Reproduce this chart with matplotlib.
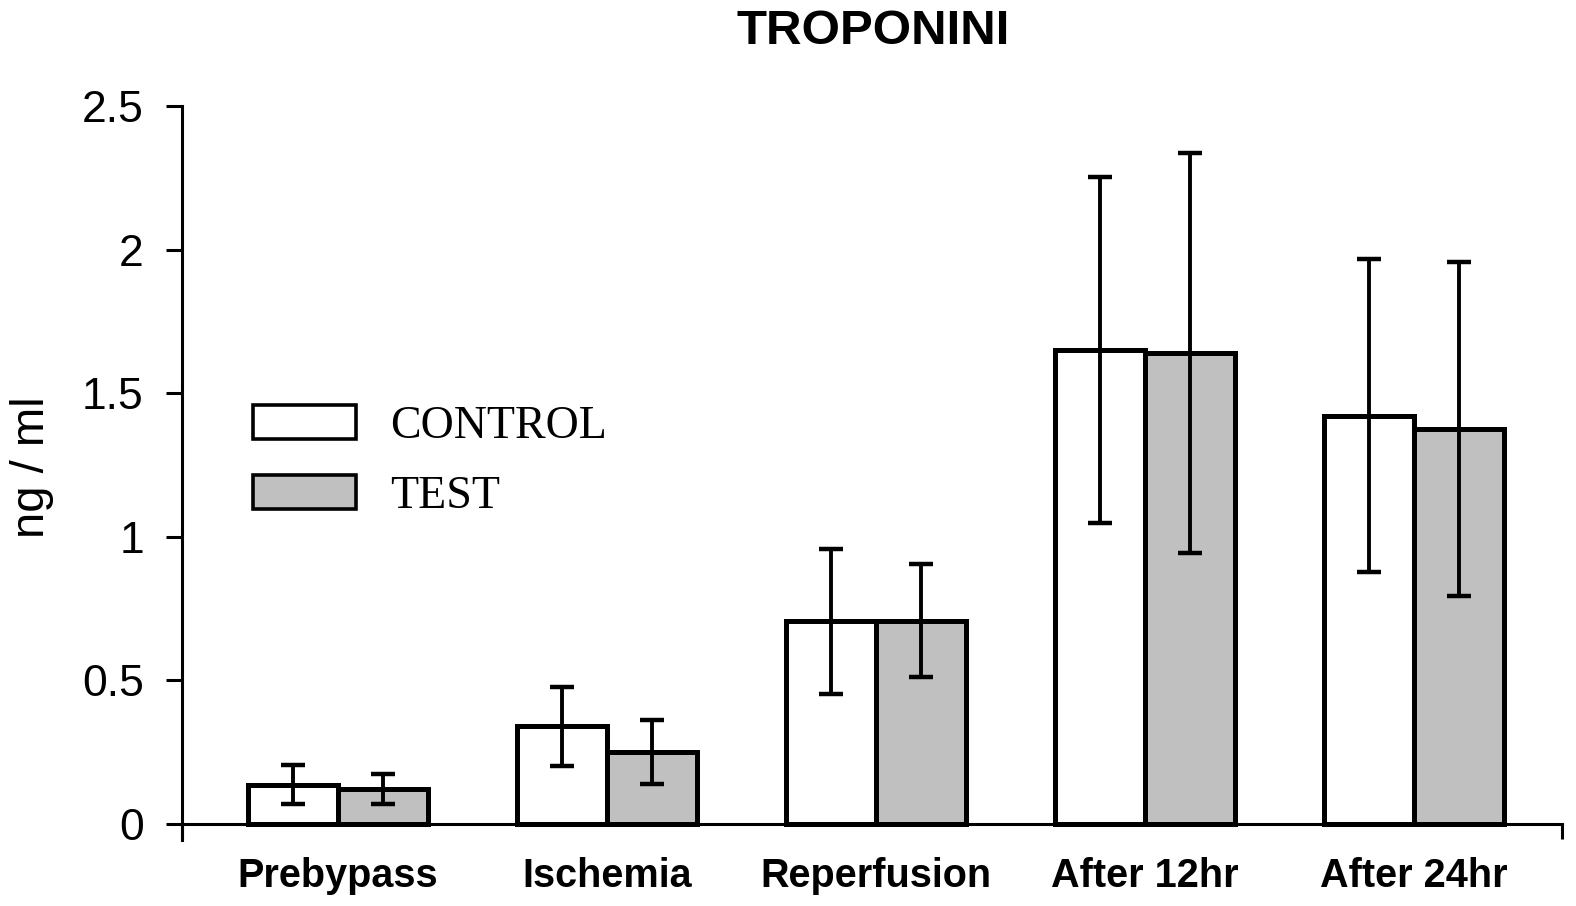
import matplotlib
matplotlib.use("Agg")
import matplotlib.pyplot as plt
import numpy as np

# values (ng/ml, mean and error bar half-length)
categories = ["Prebypass", "Ischemia", "Reperfusion", "After 12hr", "After 24hr"]
control_mean = [0.137, 0.340, 0.706, 1.650, 1.422]
control_err = [0.067, 0.137, 0.252, 0.603, 0.545]
test_mean = [0.122, 0.250, 0.708, 1.640, 1.376]
test_err = [0.052, 0.112, 0.198, 0.697, 0.581]
series_names = ["CONTROL", "TEST"]
yticks = [0, 0.5, 1, 1.5, 2, 2.5]
ytick_labels = ["0", "0.5", "1", "1.5", "2", "2.5"]

W, H = 1576, 906
fig = plt.figure(figsize=(W / 100, H / 100), dpi=100)
ax = fig.add_axes([182 / W, 1 - 840 / H, (1562 - 182) / W, (840 - 106) / H])

x = np.arange(len(categories))
bw = 0.333
lw = 3.6
b1 = ax.bar(x - bw / 2, control_mean, bw, color="white", edgecolor="black",
            linewidth=lw, zorder=2, label=series_names[0])
b2 = ax.bar(x + bw / 2, test_mean, bw, color="#c0c0c0", edgecolor="black",
            linewidth=lw, zorder=2, label=series_names[1])
for off, m, e in ((-bw / 2, control_mean, control_err), (bw / 2, test_mean, test_err)):
    ax.errorbar(x + off, m, yerr=e, fmt="none", ecolor="black", elinewidth=2.8,
                capsize=8.5, capthick=3.2, zorder=3)

ax.set_ylim(-0.056, 2.5)
ax.set_xlim(-0.58, 4.55)

for s in ("top", "right"):
    ax.spines[s].set_visible(False)
ax.spines["left"].set_linewidth(2.2)
ax.spines["bottom"].set_linewidth(2.2)
ax.spines["bottom"].set_position(("data", 0))

ax.set_yticks(yticks)
ax.set_yticklabels(ytick_labels, fontsize=32, family="Liberation Sans")
ax.tick_params(axis="y", length=11.5, width=2.2, pad=16)

# end ticks on the category axis, labels at the group centres
ax.set_xticks([-0.58, 4.55])
ax.set_xticklabels(["", ""])
ax.tick_params(axis="x", which="major", length=11, width=2.2, direction="out")
ax.set_xticks(x, minor=True)
ax.set_xticklabels(categories, minor=True, fontsize=28.5, fontweight="bold",
                   family="Liberation Sans")
ax.tick_params(axis="x", which="minor", length=0, pad=24)

fig.text(32 / W, 1 - 467 / H, "ng / ml", rotation=90, ha="center", va="center",
         fontsize=34, family="Liberation Sans")
fig.text(873 / W, 1 - 31 / H, "TROPONINI", ha="center", va="center",
         fontsize=35.5, fontweight="bold", family="Liberation Sans")

leg = ax.legend(handles=[b1, b2], loc="upper left", bbox_to_anchor=(253 / W, 1 - 405 / H),
                bbox_transform=fig.transFigure, frameon=False, borderpad=0,
                borderaxespad=0, handlelength=2.25, handleheight=0.75,
                handletextpad=0.75, labelspacing=0.6,
                prop={"family": "Liberation Serif", "size": 33})
for h in leg.legend_handles:
    h.set_linewidth(2.6)

fig.savefig("out.png", dpi=100)
